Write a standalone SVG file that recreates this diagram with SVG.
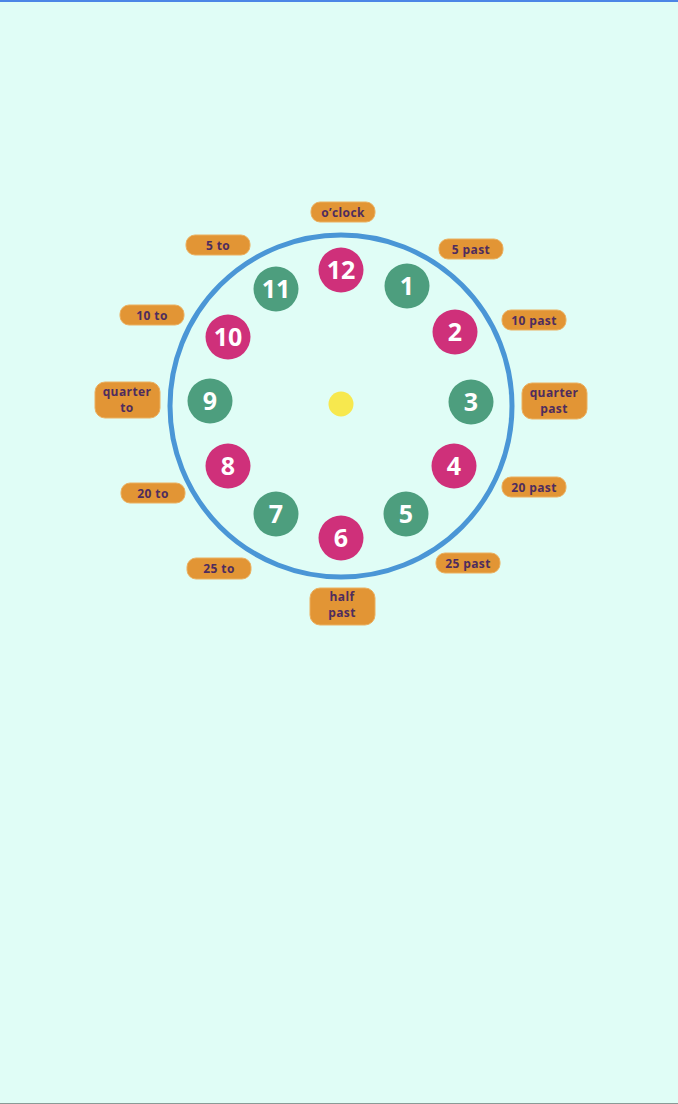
<svg xmlns="http://www.w3.org/2000/svg" width="678" height="1104" viewBox="0 0 678 1104">
<style>
.num circle{stroke:none}
.pink{fill:#CF307A}
.green{fill:#4D9E7E}
.num text{font-family:"Open Sans","Liberation Sans",sans-serif;font-weight:700;font-size:25px;fill:#ffffff;text-anchor:middle}
.lbl rect{fill:#E29535;stroke:#EBB060;stroke-width:1}
.lbl text{font-family:"Open Sans","Liberation Sans",sans-serif;font-weight:700;font-size:12px;letter-spacing:0.4px;fill:#4E2C5E;text-anchor:middle}
</style>
<rect x="0" y="0" width="678" height="1104" fill="#E0FDF6"/>
<rect x="0" y="0" width="678" height="2" fill="#4C86E6"/>
<rect x="0" y="1103" width="678" height="1" fill="#8A9A96"/>
<g id="face">
<circle cx="341" cy="406" r="171" fill="none" stroke="#4A96D6" stroke-width="5"/>
<circle cx="341" cy="404" r="12.5" fill="#F7E84E"/>
</g>
<g id="n12" class="num"><circle class="pink" cx="341" cy="270" r="22.5"/><text x="341" y="279">12</text></g>
<g id="n1" class="num"><circle class="green" cx="407" cy="286" r="22.5"/><text x="407" y="295">1</text></g>
<g id="n2" class="num"><circle class="pink" cx="455" cy="332" r="22.5"/><text x="455" y="341">2</text></g>
<g id="n3" class="num"><circle class="green" cx="471" cy="402" r="22.5"/><text x="471" y="411">3</text></g>
<g id="n4" class="num"><circle class="pink" cx="454" cy="466" r="22.5"/><text x="454" y="475">4</text></g>
<g id="n5" class="num"><circle class="green" cx="406" cy="514" r="22.5"/><text x="406" y="523">5</text></g>
<g id="n6" class="num"><circle class="pink" cx="341" cy="538" r="22.5"/><text x="341" y="547">6</text></g>
<g id="n7" class="num"><circle class="green" cx="276" cy="514" r="22.5"/><text x="276" y="523">7</text></g>
<g id="n8" class="num"><circle class="pink" cx="228" cy="466" r="22.5"/><text x="228" y="475">8</text></g>
<g id="n9" class="num"><circle class="green" cx="210" cy="401" r="22.5"/><text x="210" y="410">9</text></g>
<g id="n10" class="num"><circle class="pink" cx="228" cy="337" r="22.5"/><text x="228" y="346">10</text></g>
<g id="n11" class="num"><circle class="green" cx="276" cy="289" r="22.5"/><text x="276" y="298">11</text></g>
<g id="l-oclock" class="lbl"><rect x="311" y="202" width="64" height="20" rx="9"/><text x="343" y="216.5">o’clock</text></g>
<g id="l-5to" class="lbl"><rect x="186" y="235" width="64" height="20" rx="9"/><text x="218" y="249.5">5 to</text></g>
<g id="l-5past" class="lbl"><rect x="439" y="239" width="64" height="20" rx="9"/><text x="471" y="253.5">5 past</text></g>
<g id="l-10to" class="lbl"><rect x="120" y="305" width="64" height="20" rx="9"/><text x="152" y="319.5">10 to</text></g>
<g id="l-10past" class="lbl"><rect x="502" y="310" width="64" height="20" rx="9"/><text x="534" y="324.5">10 past</text></g>
<g id="l-qto" class="lbl"><rect x="95" y="382" width="65" height="36" rx="10"/><text x="127" y="396">quarter</text><text x="127" y="411.5">to</text></g>
<g id="l-qpast" class="lbl"><rect x="522" y="383" width="65" height="36" rx="10"/><text x="554" y="397">quarter</text><text x="554" y="412.5">past</text></g>
<g id="l-20to" class="lbl"><rect x="121" y="483" width="64" height="20" rx="9"/><text x="153" y="497.5">20 to</text></g>
<g id="l-20past" class="lbl"><rect x="502" y="477" width="64" height="20" rx="9"/><text x="534" y="491.5">20 past</text></g>
<g id="l-25to" class="lbl"><rect x="187" y="558" width="64" height="21" rx="9"/><text x="219" y="573">25 to</text></g>
<g id="l-25past" class="lbl"><rect x="436" y="553" width="64" height="20" rx="9"/><text x="468" y="567.5">25 past</text></g>
<g id="l-half" class="lbl"><rect x="310" y="588" width="65" height="37" rx="10"/><text x="342" y="601">half</text><text x="342" y="617">past</text></g>
<g id="connectors"></g>
</svg>
